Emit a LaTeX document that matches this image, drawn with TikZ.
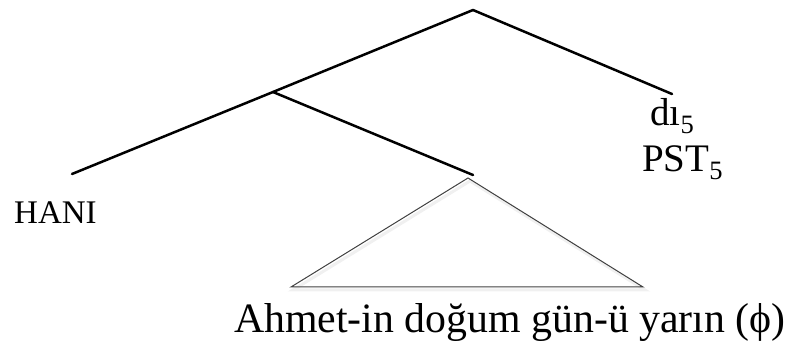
\documentclass[tikz,border=0pt]{standalone}
\usepackage{fontspec}
\usepackage{graphicx}
\setmainfont{Liberation Serif}
\newcommand\lowsubscr[1]{\raisebox{-0.2em}{\scalebox{0.68}{#1}}}
\begin{document}
\begin{tikzpicture}[x=1pt,y=-1pt,
  branch/.style={line width=2.5pt, line cap=round},
  tri/.style={draw=black!75, line width=1pt, line join=miter},
  triShadow/.style={draw=black, opacity=0.06, line width=3pt},
  lbl/.style={inner sep=0pt, anchor=base west}]
\useasboundingbox (0,0) rectangle (800,344);
\coordinate (top) at (473,10);
\coordinate (d) at (672,94);
\coordinate (mid) at (273,92);
\coordinate (hani) at (72,174);
\coordinate (vp) at (473,175);
\coordinate (tapex) at (468,178);
\coordinate (tl) at (291,287);
\coordinate (tr) at (643,287);
\draw[branch] (top) -- (d);
\draw[branch] (top) -- (mid) -- (hani);
\draw[branch] (mid) -- (vp);
\draw[triShadow] ([shift={(2,3)}]tapex) -- ([shift={(2,3)}]tl) -- ([shift={(2,3)}]tr) -- cycle;
\draw[tri] (tapex) -- (tl) -- (tr) -- cycle;
\node[lbl, font=\fontsize{33}{33}\selectfont] (haniT) at (14,224) {HANI};
\node[lbl, font=\fontsize{39}{39}\selectfont] (dT) at (650,126) {dı\lowsubscr{5}};
\node[lbl, font=\fontsize{39}{39}\selectfont] (pstT) at (642,172) {PST\lowsubscr{5}};
\node[lbl, font=\fontsize{41.8}{42}\selectfont] (sent) at (234,333) {Ahmet-in doğum gün-ü yarın (ϕ)};
\end{tikzpicture}
\end{document}
